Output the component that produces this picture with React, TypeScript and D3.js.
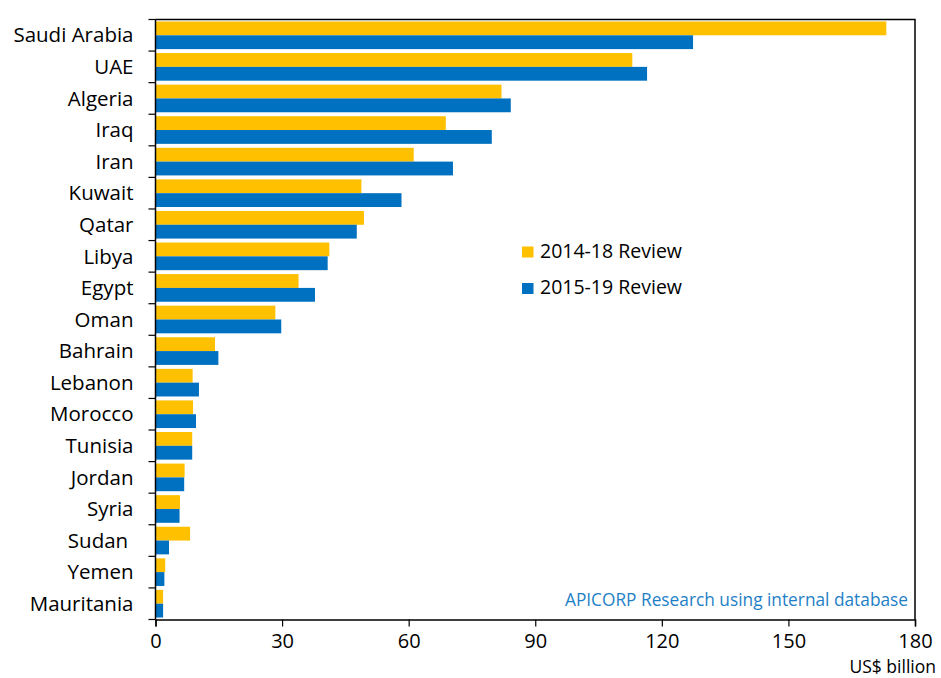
import { useEffect, useRef } from "react";
import * as d3 from "d3";

const countries = [
  "Saudi Arabia", "UAE", "Algeria", "Iraq", "Iran", "Kuwait", "Qatar", "Libya", "Egypt",
  "Oman", "Bahrain", "Lebanon", "Morocco", "Tunisia", "Jordan", "Syria", "Sudan ", "Yemen", "Mauritania",
];
const review1418 = [173.2, 113.0, 82.0, 68.8, 61.2, 48.8, 49.4, 41.2, 33.9, 28.4, 14.1, 8.8, 8.9, 8.7, 6.9, 5.8, 8.2, 2.3, 1.8];
const review1519 = [127.4, 116.5, 84.2, 79.7, 70.5, 58.3, 47.7, 40.8, 37.8, 29.8, 14.9, 10.3, 9.6, 8.7, 6.8, 5.7, 3.2, 2.1, 1.8];
const seriesNames = ["2014-18 Review", "2015-19 Review"];
const seriesColors = ["#FFC000", "#0070C0"];
const xTicks = [0, 30, 60, 90, 120, 150, 180];

const W = 941;
const H = 678;
const FONT = "'Open Sans', sans-serif";

export default function App() {
  const svgRef = useRef<SVGSVGElement>(null);

  useEffect(() => {
    if (!svgRef.current) return;
    const svg = d3.select(svgRef.current);
    svg.selectAll("*").remove();

    const margin = { top: 19.5, right: 26, bottom: 58.5, left: 155.5 };
    const innerW = W - margin.left - margin.right;
    const innerH = H - margin.top - margin.bottom;

    const x = d3.scaleLinear().domain([0, 180]).range([0, innerW]);
    const y = d3.scaleBand().domain(countries).range([0, innerH]).paddingInner(0.125).paddingOuter(0.0625);
    const ySub = d3.scaleBand().domain(seriesNames).range([0, y.bandwidth()]);

    const g = svg.append("g").attr("transform", `translate(${margin.left},${margin.top})`);

    // bars
    const rows = countries.map((c, i) => ({ c, vals: [review1418[i], review1519[i]] }));
    const row = g.selectAll("g.row").data(rows).enter().append("g")
      .attr("transform", (d) => `translate(0,${y(d.c)})`);
    row.selectAll("rect").data((d) => d.vals.map((v, k) => ({ v, k }))).enter().append("rect")
      .attr("x", 0)
      .attr("y", (d) => ySub(seriesNames[d.k]) ?? 0)
      .attr("height", ySub.bandwidth())
      .attr("width", (d) => x(d.v))
      .attr("fill", (d) => seriesColors[d.k]);

    // frame (top/right)
    g.append("path")
      .attr("d", `M0,0H${innerW}V${innerH}`)
      .attr("fill", "none").attr("stroke", "#000").attr("stroke-width", 1.5);

    // y axis: ticks between categories
    const step = innerH / countries.length;
    const yAxis = g.append("g");
    yAxis.append("line").attr("x1", 0).attr("x2", 0).attr("y1", 0).attr("y2", innerH)
      .attr("stroke", "#000").attr("stroke-width", 1.5);
    d3.range(countries.length + 1).forEach((i) => {
      yAxis.append("line").attr("x1", -7).attr("x2", 0).attr("y1", i * step).attr("y2", i * step)
        .attr("stroke", "#000").attr("stroke-width", 1.2);
    });
    yAxis.selectAll("text").data(countries).enter().append("text")
      .attr("x", -22)
      .attr("y", (d) => (y(d) ?? 0) + y.bandwidth() / 2)
      .attr("dy", "0.35em")
      .attr("text-anchor", "end")
      .attr("font-family", FONT).attr("font-size", 20.5).attr("fill", "#000")
      .style("white-space", "pre")
      .text((d) => d);

    // x axis
    const xAxis = g.append("g").attr("transform", `translate(0,${innerH})`)
      .call(d3.axisBottom(x).tickValues(xTicks).tickSize(7).tickPadding(7));
    xAxis.select(".domain").attr("stroke", "#000").attr("stroke-width", 1.5);
    xAxis.selectAll(".tick line").attr("stroke", "#000").attr("stroke-width", 1.2);
    xAxis.selectAll("text").attr("font-family", FONT).attr("font-size", 20).attr("fill", "#000");

    svg.append("text")
      .attr("x", 936).attr("y", 672.5)
      .attr("text-anchor", "end")
      .attr("font-family", FONT).attr("font-size", 17.5).attr("fill", "#000")
      .text("US$ billion");

    // legend
    const leg = svg.append("g");
    seriesNames.forEach((s, i) => {
      const ly = 246.5 + i * 36.5;
      leg.append("rect").attr("x", 522).attr("y", ly).attr("width", 11.5).attr("height", 11).attr("fill", seriesColors[i]);
      leg.append("text").attr("x", 540).attr("y", ly + 11)
        .attr("font-family", FONT).attr("font-size", 19.5).attr("fill", "#000").text(s);
    });

    // source note
    svg.append("text")
      .attr("x", 908).attr("y", 606)
      .attr("text-anchor", "end")
      .attr("font-family", FONT).attr("font-size", 17.3).attr("fill", "#1F7FC6")
      .text("APICORP Research using internal database");
  }, []);

  return <svg ref={svgRef} width={W} height={H} style={{ display: "block", position: "absolute", left: 0, top: 0 }} />;
}
